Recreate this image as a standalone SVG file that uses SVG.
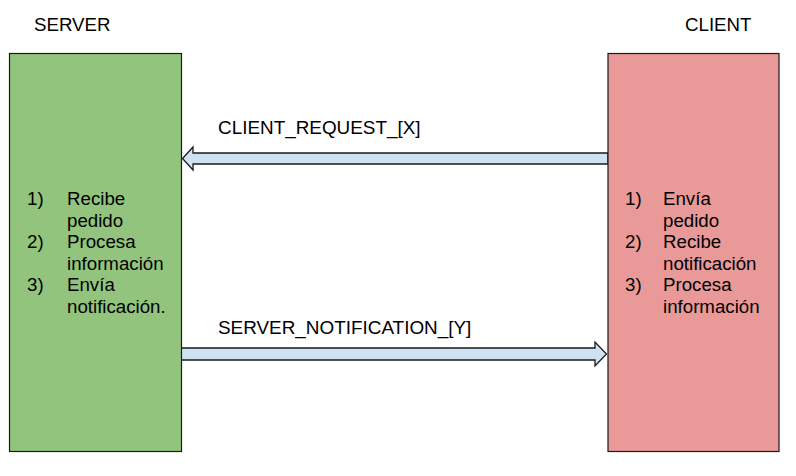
<svg xmlns="http://www.w3.org/2000/svg" width="796" height="476" viewBox="0 0 796 476">
<style>
text{font-family:"Liberation Sans",Arial,sans-serif;font-size:18.7px;fill:#000}
.lbl{font-size:18.9px}
.arrow{fill:#cfe2f3;stroke:#1a1a1a;stroke-width:1.3}
.box{stroke:#1a1a1a;stroke-width:1.2}
</style>
<rect width="796" height="476" fill="#fff"/>
<g id="connectors">
<g id="client-request">
<polygon class="arrow" points="608,153 193,153 193,147 182.5,158.5 193,170 193,164 608,164"/>
<text class="lbl" x="218" y="134">CLIENT_REQUEST_[X]</text>
</g>
<g id="server-notification">
<polygon class="arrow" points="181,348 595,348 595,342 606.5,354 595,366 595,360 181,360"/>
<text class="lbl" x="218" y="334">SERVER_NOTIFICATION_[Y]</text>
</g>
</g>
<g id="server">
<text x="34" y="31">SERVER</text>
<rect class="box" x="9.5" y="53.5" width="172" height="398" fill="#93c47d"/>
<text x="27" y="205">1)</text><text x="67" y="205">Recibe</text>
<text x="67" y="226.5">pedido</text>
<text x="27" y="248">2)</text><text x="67" y="248">Procesa</text>
<text x="67" y="269.5">información</text>
<text x="27" y="291">3)</text><text x="67" y="291">Envía</text>
<text x="67" y="312.5">notificación.</text>
</g>
<g id="client">
<text x="685" y="31">CLIENT</text>
<rect class="box" x="608" y="53.5" width="171" height="398" fill="#ea9999"/>
<text x="625" y="205">1)</text><text x="663" y="205">Envía</text>
<text x="663" y="226.5">pedido</text>
<text x="625" y="248">2)</text><text x="663" y="248">Recibe</text>
<text x="663" y="269.5">notificación</text>
<text x="625" y="291">3)</text><text x="663" y="291">Procesa</text>
<text x="663" y="312.5">información</text>
</g>
</svg>
